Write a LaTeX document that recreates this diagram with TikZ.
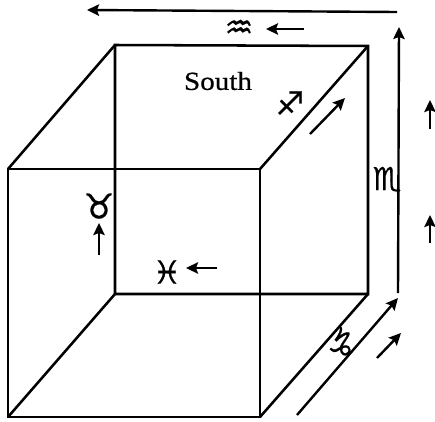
\documentclass[tikz,border=0pt]{standalone}
\usepackage{fontspec}
\setmainfont[FakeBold=0.6,FakeStretch=1.12]{Liberation Serif}
\newfontfamily\zodiac[FakeBold=0.5]{DejaVu Sans}
\usetikzlibrary{arrows.meta}
\tikzset{
  edge/.style={line width=1.9pt,line cap=round,line join=miter},
  arr/.style={line width=1.8pt,-{Stealth[length=9pt,width=8.5pt,inset=1.5pt]}},
  sign/.style={font=\zodiac\fontsize{#1}{#1}\selectfont,inner sep=0pt}
}
\begin{document}
\begin{tikzpicture}[x=0.75pt,y=-0.75pt]
\useasboundingbox (0,0) rectangle (435,421);
% cube corners
\coordinate (fa) at (8,169); \coordinate (fb) at (260,169);
\coordinate (fc) at (260,417); \coordinate (fd) at (8,417);
\coordinate (ba) at (115,45); \coordinate (bb) at (368,46);
\coordinate (bc) at (368,294); \coordinate (bd) at (115,294);
\draw[edge] (fa)--(fb)--(fc)--(fd)--cycle;
\draw[edge] (ba)--(bb)--(bc)--(bd)--cycle;
\draw[edge] (fa)--(ba) (fb)--(bb) (fc)--(bc) (fd)--(bd);
% arrow ends
\coordinate (t1) at (397,12); \coordinate (t2) at (87,10);
\coordinate (r1) at (398,293); \coordinate (r2) at (399,27);
\coordinate (d1) at (297,415); \coordinate (d2) at (398,298);
\coordinate (s1) at (377,358); \coordinate (s2) at (401,333);
\coordinate (u1) at (430,129); \coordinate (u2) at (430,100);
\coordinate (v1) at (430,243); \coordinate (v2) at (430,215);
\coordinate (g1) at (310,134); \coordinate (g2) at (345,98);
\coordinate (q1) at (304,29); \coordinate (q2) at (266,29);
\coordinate (h1) at (99,255); \coordinate (h2) at (99,223);
\coordinate (p1) at (217,268); \coordinate (p2) at (186,268);
\foreach \a/\b in {t1/t2,r1/r2,d1/d2,s1/s2,u1/u2,v1/v2,g1/g2,q1/q2,h1/h2,p1/p2}
  \draw[arr] (\a)--(\b);
% labels
\node[font=\fontsize{19.5}{20}\selectfont,inner sep=0pt] (south) at (218,81) {South};
\node[sign=24] (aqu) at (239,29) {♒};
\node[sign=24] (sag) at (290,103) {♐};
\node[sign=26] (tau) at (99,206) {♉};
\node[sign=24] (pis) at (167,272) {♓};
\node[sign=24] (sco) at (387,180) {♏};
\node[sign=26,rotate=-40] (cap) at (342,343) {♑};
\end{tikzpicture}
\end{document}
